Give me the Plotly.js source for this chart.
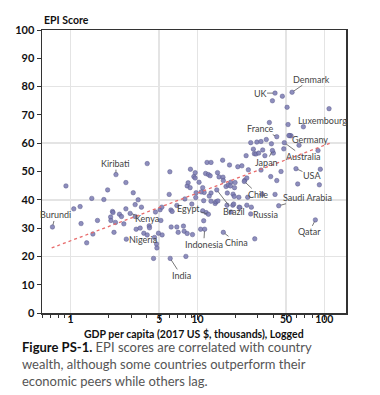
<!DOCTYPE html>
<html>
<head>
<meta charset="utf-8">
<script src="https://cdn.plot.ly/plotly-3.0.1.min.js"></script>
<style>html,body{margin:0;padding:0;background:#fff;}#chart{width:380px;height:395px;}</style>
</head>
<body>
<div id="chart"></div>
<script>
// Unlabeled countries: GDP per capita (thousands, 2017 US$) and EPI score
var gdp = [0.92,1.06,1.19,1.21,1.34,1.47,1.50,1.63,1.83,1.96,2.07,2.08,2.14,2.16,2.20,2.26,2.43,2.52,2.63,2.73,2.73,2.75,
  3.12,3.23,3.41,3.23,3.62,3.29,3.54,3.78,4.02,4.02,4.17,4.19,4.67,4.51,4.59,4.79,4.76,5.27,5.15,5.08,5.24,5.99,6.06,
  6.18,6.21,6.88,7.05,7.76,7.86,7.96,8.11,8.30,8.30,8.45,8.81,6.32,6.88,9.14,8.76,9.37,9.59,9.03,9.6,9.77,10.3,11.0,
  11.2,11.0,11.7,11.2,10.6,11.3,11.6,12.2,12.6,11.9,12.8,12.8,12.8,13.8,14.0,14.5,14.4,14.8,15.9,16.0,15.8,17.9,20.8,
  24.2,18.3,16.8,17.5,18.2,19.8,19.6,19.1,17.2,21.2,23.6,24.5,17.1,19.0,21.3,24.5,24.9,19.5,32.3,40.9,37.8,42.2,45.6,
  61.7,21.6,26.3,18.4,19.3,28.3,91.4,46.7,39.0,50.9,36.9,51.8,68.4,53.5,54.7,63.2,89.2,29.4,31.7,26.3,34.9,38.3,27.6,
  28.1,28.9,30.4,32.7,34.0,39.7,47.9,31.7,22.4,25.2,93.0,12.4,10.7,9.7];
var epi = [44.9,36.8,37.6,31.6,24.8,40.5,27.9,32.7,40.1,43.5,33.9,32.7,35.9,35.5,28.5,32.0,34.9,34.1,31.5,46.1,36.8,26.1,
  42.5,38.3,40.0,34.1,37.4,29.6,30.0,28.2,52.8,27.6,30.8,30.1,35.7,19.3,26.7,23.0,24.4,27.6,32.7,36.5,37.4,41.9,49.9,
  36.4,30.4,38.0,28.5,30.7,28.9,40.3,20.0,28.1,44.9,46.0,50.8,35.9,30.4,27.7,44.3,48.2,47.7,38.5,49.6,42.5,46.2,44.3,
  39.7,36.1,35.5,32.6,29.6,42.6,49.3,48.9,48.5,53.2,53.2,42.4,39.5,38.7,39.3,39.6,49.6,48.1,48.0,46.8,54.0,52.3,51.7,
  55.6,46.2,44.7,45.2,44.9,46.1,44.3,42.0,42.4,40.9,46.9,47.7,38.1,38.1,37.4,38.1,40.9,41.2,42.0,41.9,48.2,46.8,50.0,
  45.6,37.3,35.0,35.7,38.5,26.2,45.3,76.6,75.0,72.7,67.3,66.6,65.8,62.7,62.6,59.3,57.4,60.4,60.6,60.2,61.3,59.8,57.9,
  56.3,56.2,56.5,57.6,55.6,56.5,58.0,50.5,52.0,50.6,50.8,41.3,42.8,40.8];

// Labeled countries
var labelNames = ['Denmark','UK','Luxembourg','France','Germany','Australia','Japan','USA','Chile','Saudi Arabia',
  'Russia','Qatar','Brazil','Egypt','Indonesia','China','India','Nigeria','Kenya','Kiribati','Burundi'];
var labelGdp = [55.7,40.9,109,42.2,52.6,48.4,39.0,59.8,23.4,43.7,26.6,85.0,14.2,12.2,11.4,16.0,6.1,4.93,2.95,2.28,0.72];
var labelEpi = [78.0,77.7,72.2,62.3,62.7,60.2,57.4,51.0,46.5,37.9,37.4,32.9,43.5,34.9,29.6,28.5,19.3,28.2,35.2,48.9,30.4];

// Trend line endpoints
var trendGdp = [0.71, 111];
var trendEpi = [23.0, 60.0];

var xTicks = [1,5,10,50,100];
var xMinor = [0.6,0.7,0.8,0.9,2,3,4,6,7,8,9,20,30,40,60,70,80,90];
var yTicks = [0,10,20,30,40,50,60,70,80,90,100];
var yGrid = [20,40,60,80];

// label offsets (px) - style
var offsets = {
  'Denmark':[19,-13],'UK':[-15,0],'Luxembourg':[-7,12],'France':[-16,-8],'Germany':[21,4],'Australia':[19,14],
  'Japan':[-6,12],'USA':[16,7],'Chile':[14,13],'Saudi Arabia':[29,-8],'Russia':[14,7],'Qatar':[-6,12],
  'Brazil':[17,22],'Egypt':[-20,-6],'Indonesia':[-1,15],'China':[13,10],'India':[11,17],'Nigeria':[-15,6],
  'Kenya':[17,5],'Kiribati':[0,-11],'Burundi':[3,-12]
};

var allGdp = gdp.concat(labelGdp);
var allEpi = epi.concat(labelEpi);

var FONT = 'Lato, "Open Sans", sans-serif';

var traces = [
  {x: allGdp, y: allEpi, type: 'scatter', mode: 'markers', xaxis: 'x', yaxis: 'y',
   marker: {size: 4.5, color: 'rgba(122,122,178,0.85)', line: {color: 'rgba(85,85,135,0.9)', width: 0.5}},
   hoverinfo: 'x+y', showlegend: false},
  {x: trendGdp, y: trendEpi, type: 'scatter', mode: 'lines', xaxis: 'x', yaxis: 'y2',
   line: {color: '#e86a6a', width: 1.3, dash: 'dot'}, hoverinfo: 'skip', showlegend: false}
];

var annotations = [];
for (var i = 0; i < labelNames.length; i++) {
  var o = offsets[labelNames[i]];
  annotations.push({
    x: Math.log10(labelGdp[i]), y: labelEpi[i], xref: 'x', yref: 'y',
    text: labelNames[i], showarrow: true, arrowhead: 0, arrowwidth: 0.8, arrowcolor: '#555',
    ax: o[0], ay: o[1], standoff: 2, borderpad: 0,
    font: {family: FONT, size: 9, color: '#444'}
  });
}
annotations.push({
  xref: 'paper', yref: 'paper', x: 0, y: 1.035, xanchor: 'left', yanchor: 'middle', showarrow: false,
  text: '<b>EPI Score</b>', font: {family: FONT, size: 10.5, color: '#111'}
});
annotations.push({
  xref: 'paper', yref: 'paper', x: 0.5, y: -0.074, xanchor: 'center', yanchor: 'middle', showarrow: false,
  text: '<b>GDP per capita (2017 US $, thousands), Logged</b>', font: {family: FONT, size: 10.5, color: '#111'}
});
annotations.push({
  xref: 'paper', yref: 'paper', x: -0.071, y: -0.086, xanchor: 'left', yanchor: 'top', showarrow: false, align: 'left',
  text: '<b>Figure PS-1.</b> <span style="color:#555">EPI scores are correlated with country</span><br>' +
        '<span style="color:#555">wealth, although some countries outperform their</span><br>' +
        '<span style="color:#555">economic peers while others lag.</span>',
  font: {family: FONT, size: 13, color: '#111'}
});

var layout = {
  width: 380, height: 395,
  margin: {l: 42, r: 34, t: 30, b: 82},
  paper_bgcolor: '#fff', plot_bgcolor: '#fff',
  font: {family: FONT},
  xaxis: {
    type: 'log', range: [-0.225, 2.171],
    tickmode: 'array', tickvals: xTicks, ticktext: xTicks.map(String),
    ticks: 'outside', ticklen: 5, tickwidth: 1, tickcolor: '#333', ticklabelstandoff: -9,
    minor: {tickmode: 'array', tickvals: xMinor, ticks: 'outside', ticklen: 3, tickcolor: '#333', showgrid: false},
    showgrid: true, gridcolor: '#e4e4e4', gridwidth: 1.5,
    showline: true, mirror: true, linecolor: '#333', linewidth: 1.5, zeroline: false,
    tickfont: {family: FONT, size: 10.5, color: '#111', weight: 'bold'}
  },
  yaxis: {
    range: [0, 100], tickmode: 'array', tickvals: yTicks,
    ticks: 'outside', ticklen: 4, tickcolor: '#333',
    showgrid: false, showline: true, mirror: true, linecolor: '#333', linewidth: 1.5, zeroline: false,
    tickfont: {family: FONT, size: 11, color: '#111', weight: 'bold'}
  },
  yaxis2: {
    overlaying: 'y', range: [0, 100], tickmode: 'array', tickvals: yGrid,
    showgrid: true, gridcolor: '#e4e4e4', gridwidth: 1.5, showticklabels: false, ticks: '',
    showline: false, zeroline: false
  },
  annotations: annotations,
  showlegend: false
};

Plotly.newPlot('chart', traces, layout, {staticPlot: true, displayModeBar: false});
</script>
</body>
</html>
